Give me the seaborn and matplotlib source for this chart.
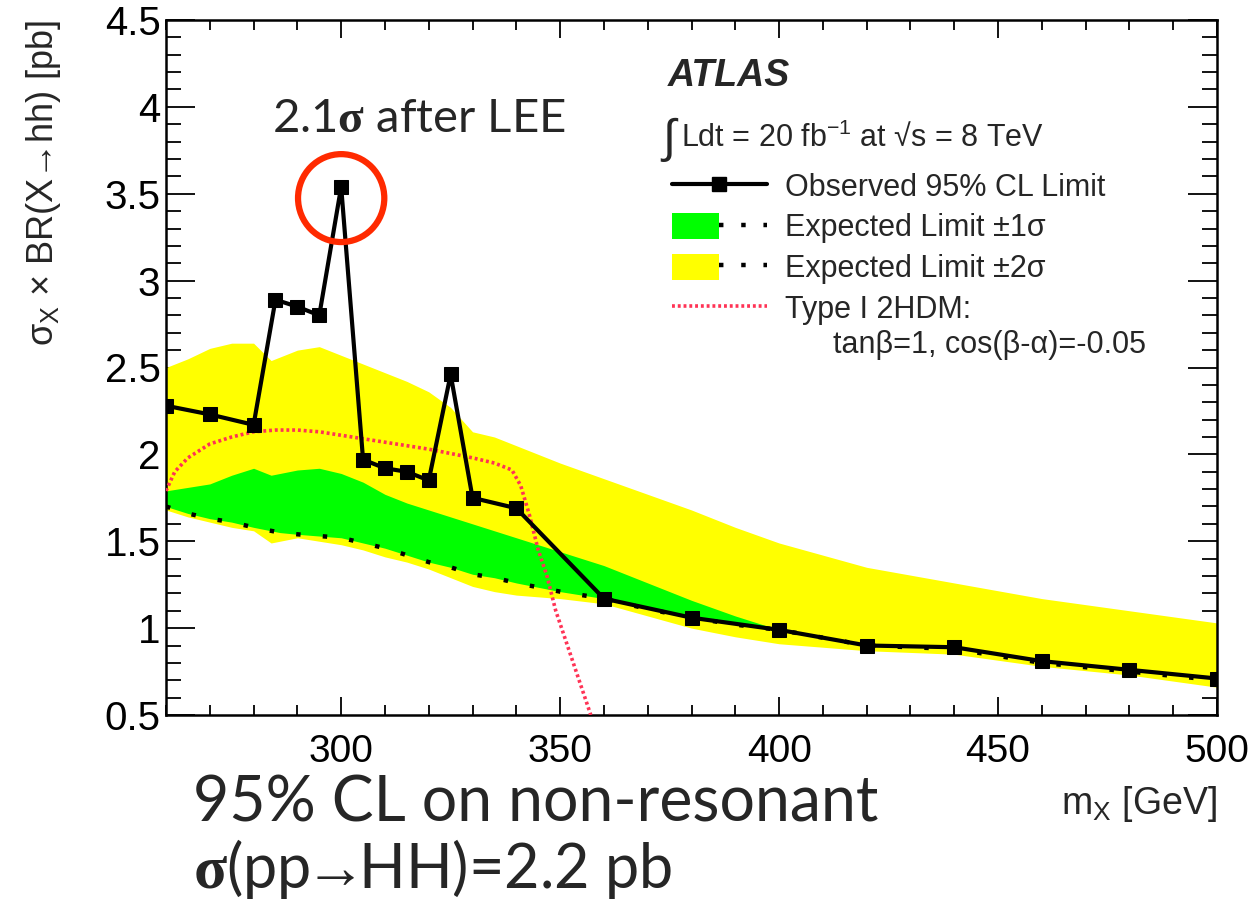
import numpy as np
import pandas as pd
import matplotlib
matplotlib.use("Agg")
import matplotlib.pyplot as plt
import seaborn as sns
from matplotlib.lines import Line2D
from matplotlib.patches import Patch, Ellipse
from matplotlib.legend_handler import HandlerTuple
from matplotlib.ticker import MultipleLocator

# ---------------- data ----------------
obs_mass = [260, 270, 280, 285, 290, 295, 300, 305, 310, 315, 320, 325, 330, 340,
            360, 380, 400, 420, 440, 460, 480, 500]
obs_limit = [2.28, 2.23, 2.17, 2.89, 2.85, 2.80, 3.54, 1.97, 1.92, 1.90, 1.85, 2.46,
             1.75, 1.69, 1.17, 1.06, 0.99, 0.90, 0.89, 0.81, 0.76, 0.71]

band_mass = [260, 265, 270, 275, 280, 284, 286, 290, 295, 300, 305, 310, 315, 320,
             325, 330, 335, 340, 350, 360, 370, 380, 390, 400, 420, 440, 460, 480, 500]
exp_limit = [1.70, 1.66, 1.63, 1.61, 1.58, 1.56, 1.55, 1.54, 1.53, 1.52, 1.49, 1.46,
             1.42, 1.38, 1.35, 1.31, 1.29, 1.26, 1.21, 1.17, 1.11, 1.06, 1.02, 0.99,
             0.90, 0.88, 0.80, 0.75, 0.70]
exp_plus1 = [1.79, 1.81, 1.83, 1.88, 1.92, 1.88, 1.89, 1.91, 1.92, 1.89, 1.84, 1.77,
             1.72, 1.68, 1.64, 1.60, 1.56, 1.52, 1.44, 1.36, 1.26, 1.16, 1.07, 0.99,
             0.90, 0.88, 0.80, 0.75, 0.70]
exp_plus2 = [2.50, 2.55, 2.61, 2.64, 2.64, 2.54, 2.56, 2.60, 2.62, 2.57, 2.52, 2.47,
             2.42, 2.36, 2.27, 2.13, 2.10, 2.05, 1.95, 1.86, 1.77, 1.68, 1.58, 1.49,
             1.35, 1.26, 1.17, 1.10, 1.03]
exp_minus2 = [1.68, 1.64, 1.61, 1.58, 1.56, 1.49, 1.50, 1.52, 1.50, 1.48, 1.45, 1.41,
              1.38, 1.34, 1.29, 1.24, 1.21, 1.19, 1.17, 1.14, 1.07, 1.00, 0.95, 0.91,
              0.87, 0.85, 0.78, 0.73, 0.66]

thdm_mass = [260, 262, 265, 270, 275, 280, 285, 290, 295, 300, 310, 320, 330, 335,
             339, 341, 343, 345, 347, 349, 351, 353, 355, 357]
thdm_xsec = [1.79, 1.90, 1.98, 2.06, 2.10, 2.13, 2.14, 2.14, 2.13, 2.11, 2.07, 2.03,
             1.98, 1.95, 1.91, 1.82, 1.65, 1.45, 1.30, 1.10, 0.95, 0.80, 0.65, 0.50]

x_ticks = [300, 350, 400, 450, 500]
y_ticks = [0.5, 1, 1.5, 2, 2.5, 3, 3.5, 4, 4.5]
y_tick_labels = ["0.5", "1", "1.5", "2", "2.5", "3", "3.5", "4", "4.5"]

obs_df = pd.DataFrame({"mass": obs_mass, "limit": obs_limit})
band_df = pd.DataFrame({"mass": band_mass, "exp": exp_limit, "p1": exp_plus1,
                        "p2": exp_plus2, "m2": exp_minus2})
thdm_df = pd.DataFrame({"mass": thdm_mass, "xsec": thdm_xsec})

# ---------------- style ----------------
sns.set_theme(style="ticks")
plt.rcParams["font.family"] = ["Liberation Sans", "DejaVu Sans"]
plt.rcParams["mathtext.fontset"] = "custom"
plt.rcParams["mathtext.rm"] = "Liberation Sans"
plt.rcParams["mathtext.it"] = "Liberation Sans"
plt.rcParams["mathtext.bf"] = "Liberation Serif:bold"

GREEN = "#00ff00"
YELLOW = "#ffff00"
RED = "#ff3355"

fig = plt.figure(figsize=(12.48, 8.99), dpi=100)
fig.patch.set_facecolor("white")
ax = fig.add_axes([166 / 1248, 1 - 715 / 899, (1217 - 166) / 1248, (715 - 20) / 899])
ax.set_facecolor("white")

ax.fill_between(band_df["mass"], band_df["m2"], band_df["p2"], color=YELLOW, lw=0, zorder=1)
ax.fill_between(band_df["mass"], band_df["exp"], band_df["p1"], color=GREEN, lw=0, zorder=2)

sns.lineplot(data=band_df, x="mass", y="exp", ax=ax, color="black", lw=3.2,
             linestyle=(0, (1, 5)), zorder=3, legend=False)
sns.lineplot(data=thdm_df, x="mass", y="xsec", ax=ax, color=RED, lw=2.6,
             linestyle=(0, (0.8, 0.8)), zorder=4, legend=False)
sns.lineplot(data=obs_df, x="mass", y="limit", ax=ax, color="black", lw=3,
             marker="s", markersize=9.5, markeredgecolor="black", zorder=5, legend=False)

ax.set_xlim(260, 500)
ax.set_ylim(0.5, 4.5)
ax.set_xticks(x_ticks)
ax.set_xticklabels([str(v) for v in x_ticks])
ax.set_yticks(y_ticks)
ax.set_yticklabels(y_tick_labels)
ax.xaxis.set_minor_locator(MultipleLocator(10))
ax.yaxis.set_minor_locator(MultipleLocator(0.1))
ax.tick_params(axis="both", which="both", direction="in", top=True, right=True,
               colors="black", width=1.3)
ax.tick_params(axis="x", which="major", length=13, labelsize=28, pad=14)
ax.tick_params(axis="x", which="minor", length=7)
ax.tick_params(axis="y", which="major", length=21, labelsize=29, pad=4)
ax.tick_params(axis="y", which="minor", length=11)
for s in ax.spines.values():
    s.set_color("black")
    s.set_linewidth(1.8)

ax.set_xlabel(r"m$_{\rm X}$ [GeV]", fontsize=27, loc="right", labelpad=10)
ax.set_ylabel(r"$\sigma_{\rm X}$ × BR(X→hh) [pb]", fontsize=26, loc="top",
              labelpad=30)

# ---------------- legend ----------------
handles = [
    Line2D([], [], color="black", lw=3, marker="s", markersize=9.5),
    (Patch(facecolor=GREEN, edgecolor="none"),
     Line2D([], [], color="black", lw=3.2, linestyle=(0, (1, 4)))),
    (Patch(facecolor=YELLOW, edgecolor="none"),
     Line2D([], [], color="black", lw=3.2, linestyle=(0, (1, 4)))),
    Line2D([], [], color=RED, lw=2.6, linestyle=(0, (0.8, 0.8))),
]
labels = ["Observed 95% CL Limit", "Expected Limit ±1σ", "Expected Limit ±2σ",
          "Type I 2HDM:"]
leg = ax.legend(handles, labels, loc="upper left",
                bbox_to_anchor=(672 / 1248, 1 - 172 / 899), bbox_transform=fig.transFigure,
                frameon=False, fontsize=22, handlelength=3.1, handleheight=0.95,
                handletextpad=0.6, labelspacing=0.33, borderpad=0, borderaxespad=0,
                handler_map={tuple: HandlerTuple(ndivide=None, pad=0)})
fig.text(833 / 1248, 1 - 345 / 899, "tanβ=1, cos(β-α)=-0.05", fontsize=22,
         va="center", ha="left")

fig.text(668 / 1248, 1 - 86 / 899, "ATLAS", fontsize=27, fontweight="bold",
         fontstyle="italic", va="baseline")
fig.text(662 / 1248, 1 - 152 / 899, "∫", fontsize=34, va="baseline")
fig.text(681 / 1248, 1 - 147 / 899, r"Ldt = 20 fb$^{-1}$ at √s = 8 TeV", fontsize=22,
         va="baseline")

# ---------------- slide annotations ----------------
ax.add_patch(Ellipse((300, 3.475), width=19.7, height=0.506, fill=False,
                     edgecolor="#ff2a00", lw=4.5, zorder=6, clip_on=False))
ann_font = ["Lato", "DejaVu Sans"]
fig.text(272 / 1248, 1 - 132 / 899, r"2.1$\mathbf{\sigma}$ after LEE", fontsize=34,
         family=ann_font, va="baseline", ha="left")
fig.text(193 / 1248, 1 - 822 / 899, "95% CL on non-resonant", fontsize=45,
         family=ann_font, va="baseline", ha="left")
fig.text(193 / 1248, 1 - 888 / 899, r"$\mathbf{\sigma}$(pp$\!\!\rightarrow\!\!$HH)=2.2 pb",
         fontsize=44, family=ann_font, va="baseline", ha="left")

fig.savefig("out.png", dpi=100, facecolor="white")
